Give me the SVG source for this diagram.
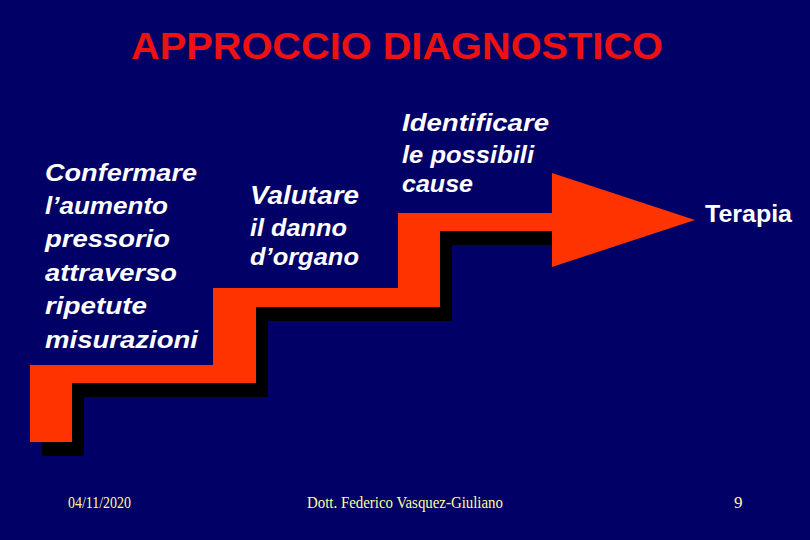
<svg xmlns="http://www.w3.org/2000/svg" width="810" height="540" viewBox="0 0 810 540">
  <style>
    .step { font-family: "Liberation Sans", Arial, sans-serif; font-weight: bold; font-style: italic; fill: #FFFFFF; }
    .plain { font-family: "Liberation Sans", Arial, sans-serif; font-weight: bold; fill: #FFFFFF; }
    .foot { font-family: "Liberation Serif", "Times New Roman", serif; font-size: 17px; fill: #FFFF99; }
    .title { font-family: "Liberation Sans", Arial, sans-serif; font-weight: bold; font-size: 36px; fill: #EE1111; }
  </style>
  <rect width="810" height="540" fill="#000066"/>

  <g id="title">
    <text class="title" x="131" y="59" textLength="532" lengthAdjust="spacingAndGlyphs">APPROCCIO DIAGNOSTICO</text>
  </g>

  <g id="connectors">
    <g id="stair-arrow">
      <polygon fill="#000000" points="42,456 42,379 225,379 225,302 410,302 410,227 552,227 552,245 452,245 452,321 268,321 268,397 84,397 84,456"/>
      <polygon fill="#FF3300" points="30,442 30,365 213,365 213,288 398,288 398,213 552,213 552,173 695,220 552,267 552,231 440,231 440,307 256,307 256,383 72,383 72,442"/>
    </g>
  </g>

  <g id="step1">
    <text class="step" font-size="23" x="45" y="181" textLength="152" lengthAdjust="spacingAndGlyphs">Confermare</text>
    <text class="step" font-size="23" x="45" y="214" textLength="123" lengthAdjust="spacingAndGlyphs">l’aumento</text>
    <text class="step" font-size="23" x="45" y="247" textLength="125" lengthAdjust="spacingAndGlyphs">pressorio</text>
    <text class="step" font-size="23" x="45" y="281" textLength="132" lengthAdjust="spacingAndGlyphs">attraverso</text>
    <text class="step" font-size="23" x="45" y="314" textLength="102" lengthAdjust="spacingAndGlyphs">ripetute</text>
    <text class="step" font-size="23" x="45" y="348" textLength="153" lengthAdjust="spacingAndGlyphs">misurazioni</text>
  </g>

  <g id="step2">
    <text class="step" font-size="25" x="250" y="204" textLength="109" lengthAdjust="spacingAndGlyphs">Valutare</text>
    <text class="step" font-size="23" x="250" y="236" textLength="97" lengthAdjust="spacingAndGlyphs">il danno</text>
    <text class="step" font-size="23" x="250" y="265" textLength="109" lengthAdjust="spacingAndGlyphs">d’organo</text>
  </g>

  <g id="step3">
    <text class="step" font-size="24" x="402" y="131" textLength="147" lengthAdjust="spacingAndGlyphs">Identificare</text>
    <text class="step" font-size="23" x="402" y="163" textLength="132" lengthAdjust="spacingAndGlyphs">le possibili</text>
    <text class="step" font-size="23" x="402" y="192" textLength="71" lengthAdjust="spacingAndGlyphs">cause</text>
  </g>

  <g id="step4">
    <text class="plain" font-size="23" x="705" y="222" textLength="87" lengthAdjust="spacingAndGlyphs">Terapia</text>
  </g>

  <g id="footer">
    <text class="foot" x="68" y="508" textLength="63" lengthAdjust="spacingAndGlyphs">04/11/2020</text>
    <text class="foot" x="307" y="508" textLength="196" lengthAdjust="spacingAndGlyphs">Dott. Federico Vasquez-Giuliano</text>
    <text class="foot" x="734" y="508">9</text>
  </g>
</svg>
